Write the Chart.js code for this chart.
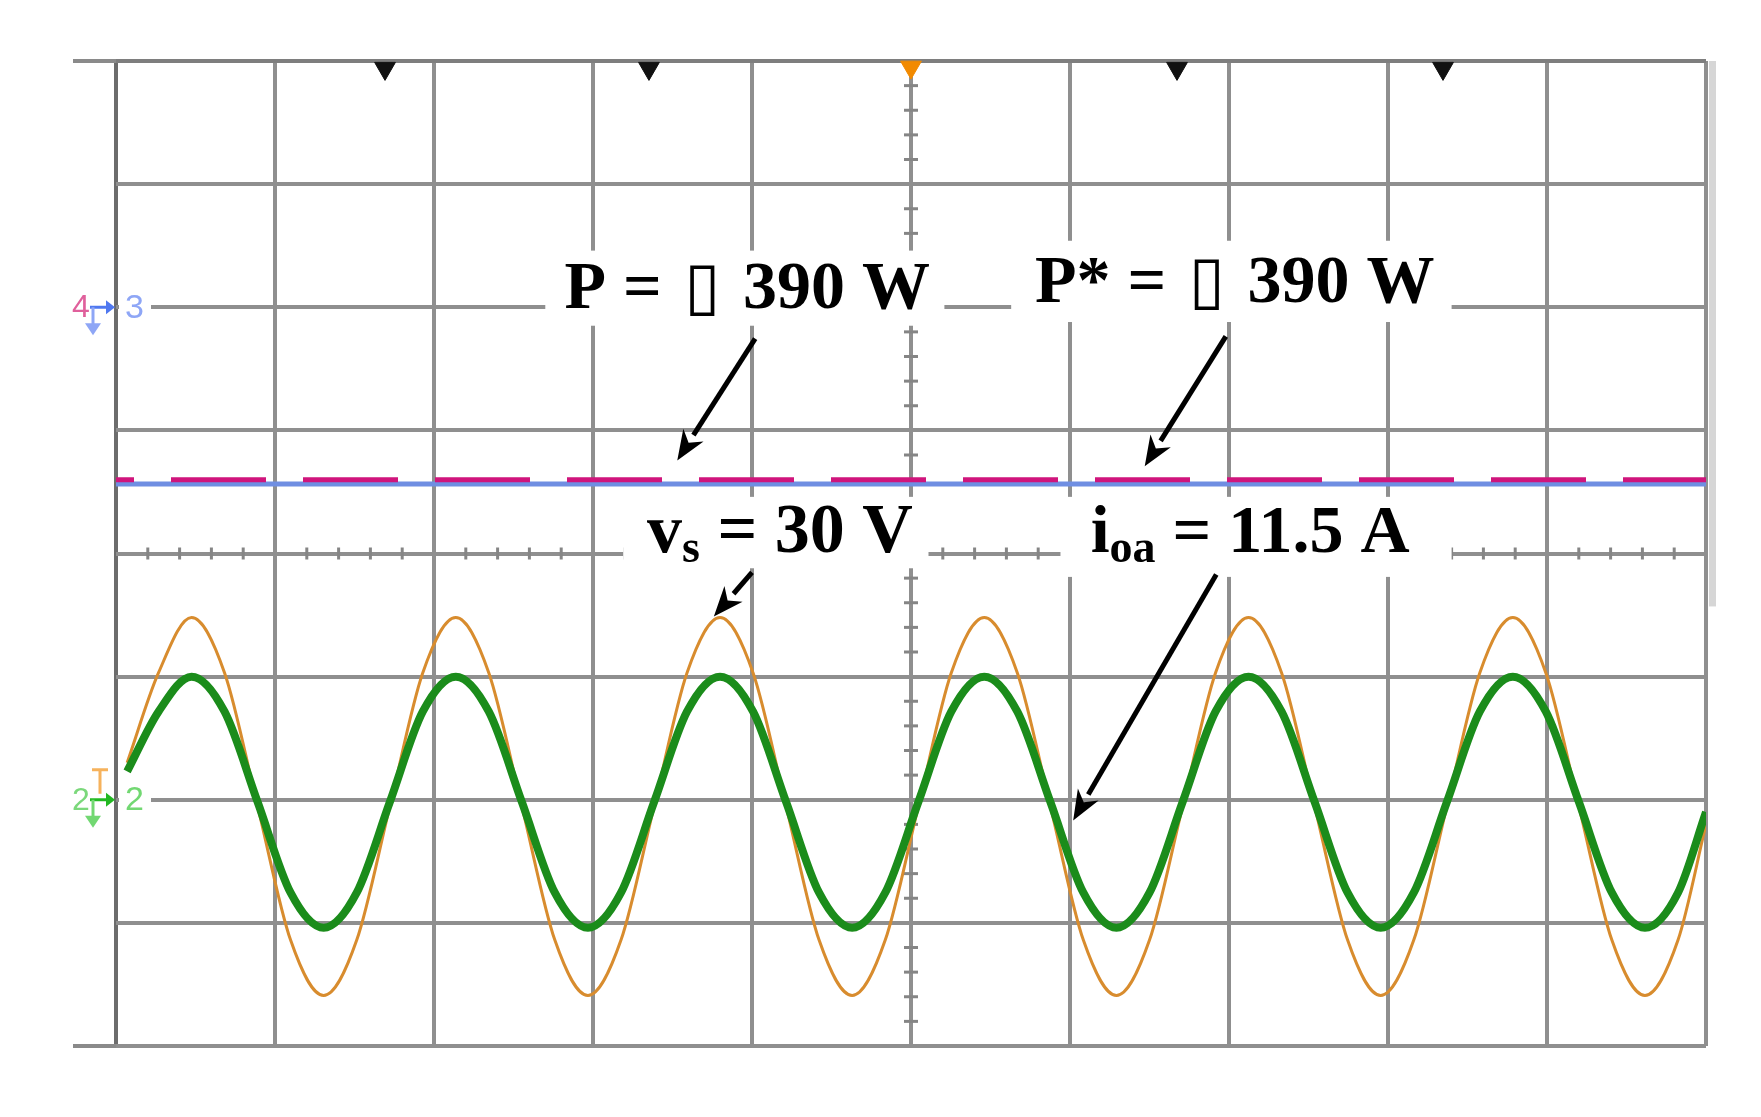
<!DOCTYPE html>
<html>
<head>
<meta charset="utf-8">
<script src="https://cdn.jsdelivr.net/npm/chart.js@4.4.1/dist/chart.umd.min.js"></script>
<style>
  html, body { margin: 0; padding: 0; background: #fff; }
  #wrap { width: 1761px; height: 1117px; position: relative; }
</style>
</head>
<body>
<div id="wrap"><canvas id="scope"></canvas></div>
<script>
// ================================================
// Scope capture: P, P*, vs and ioa
// axes are in screen divisions (10 x 8, centre = 0)
// ================================================

// time positions of the samples (div)
const sineX = [0.07, 0.267, 0.475, 0.683, 0.891, 1.098, 1.306, 1.514, 1.722, 1.929,
  2.137, 2.345, 2.553, 2.760, 2.968, 3.176, 3.384, 3.591, 3.799, 4.007,
  4.215, 4.422, 4.630, 4.838, 5.046, 5.253, 5.461, 5.669, 5.877, 6.084,
  6.292, 6.500, 6.708, 6.915, 7.123, 7.331, 7.539, 7.746, 7.954, 8.162,
  8.370, 8.577, 8.785, 8.993, 9.201, 9.408, 9.616, 9.824, 10.0];

// vs (orange, thin)
const voltageVs = [-1.70, -0.97, -0.52, -0.97, -2.055, -3.14, -3.59, -3.14, -2.055, -0.97,
  -0.52, -0.97, -2.055, -3.14, -3.59, -3.14, -2.055, -0.97, -0.52, -0.97,
  -2.055, -3.14, -3.59, -3.14, -2.055, -0.97, -0.52, -0.97, -2.055, -3.14,
  -3.59, -3.14, -2.055, -0.97, -0.52, -0.97, -2.055, -3.14, -3.59, -3.14,
  -2.055, -0.97, -0.52, -0.97, -2.055, -3.14, -3.59, -3.14, -2.20];

// ioa (green, thick)
const currentIoa = [-1.77, -1.285, -1.0, -1.285, -2.02, -2.755, -3.04, -2.755, -2.02, -1.285,
  -1.0, -1.285, -2.02, -2.755, -3.04, -2.755, -2.02, -1.285, -1.0, -1.285,
  -2.02, -2.755, -3.04, -2.755, -2.02, -1.285, -1.0, -1.285, -2.02, -2.755,
  -3.04, -2.755, -2.02, -1.285, -1.0, -1.285, -2.02, -2.755, -3.04, -2.755,
  -2.02, -1.285, -1.0, -1.285, -2.02, -2.755, -3.04, -2.755, -2.10];

// active power P (blue) and reference P* (magenta dashed)
const powerX = [0, 10];
const powerP = [0.565, 0.565];
const powerRef = [0.598, 0.598];

// markers along the top edge
const cycleMarkX = [1.692, 3.352, 6.673, 8.346];
const cycleMarkY = [3.94, 3.94, 3.94, 3.94];
const triggerX = [5.0];
const triggerY = [3.95];

// annotation texts
const labelTexts = [
  [{ t: 'P = ' }, { t: '▯', box: true }, { t: ' 390 W' }],
  [{ t: 'P* = ' }, { t: '▯', box: true }, { t: ' 390 W' }],
  [{ t: 'v', big: true }, { t: 's', sub: true }, { t: ' = 30 V', big: true }],
  [{ t: 'i' }, { t: 'oa', sub: true }, { t: ' = 11.5 A' }],
];

const pts = (xs, ys) => xs.map((x, i) => ({ x, y: ys[i] }));

// label boxes / arrows, placed in division units
const notes = [
  { box: [2.70, 5.21, 2.46, 1.85], at: [2.82, 1.99], arrow: [4.02, 1.745, 3.53, 0.756] },
  { box: [5.63, 8.40, 2.54, 1.88], at: [5.78, 2.04], arrow: [6.98, 1.763, 6.47, 0.708] },
  { box: [3.19, 5.11, 0.46, -0.12], at: [3.34, 0.01], arrow: [4.00, -0.154, 3.76, -0.511] },
  { box: [5.94, 8.40, 0.46, -0.19], at: [6.13, 0.01], arrow: [6.92, -0.17, 6.02, -2.168] },
];

const FONT_MAIN = 'bold 68px "Liberation Serif", "Times New Roman", serif';
const FONT_BIG  = 'bold 70px "Liberation Serif", "Times New Roman", serif';
const FONT_SUB  = 'bold 46px "Liberation Serif", "Times New Roman", serif';
const FONT_BOX  = '66px "DejaVu Sans", sans-serif';
const BOX_PAD = 11;

function drawArrow(ctx, x0, y0, x1, y1) {
  const ang = Math.atan2(y1 - y0, x1 - x0);
  const len = 30, half = 12;
  const bx = x1 - Math.cos(ang) * len, by = y1 - Math.sin(ang) * len;
  ctx.strokeStyle = '#000';
  ctx.lineWidth = 5;
  ctx.beginPath();
  ctx.moveTo(x0, y0);
  ctx.lineTo(bx, by);
  ctx.stroke();
  ctx.fillStyle = '#000';
  ctx.beginPath();
  ctx.moveTo(x1, y1);
  ctx.lineTo(bx + Math.sin(ang) * half, by - Math.cos(ang) * half);
  ctx.lineTo(x1 - Math.cos(ang) * len * 0.7, y1 - Math.sin(ang) * len * 0.7);
  ctx.lineTo(bx - Math.sin(ang) * half, by + Math.cos(ang) * half);
  ctx.closePath();
  ctx.fill();
}

function channelMark(ctx, left, py, col, arrowCol, leftTxt, leftCol, num) {
  ctx.textBaseline = 'middle';
  ctx.font = '32px "Liberation Sans", sans-serif';
  ctx.fillStyle = leftCol;
  ctx.fillText(leftTxt, left - 44, py + 1);
  // arrow into the screen
  ctx.strokeStyle = arrowCol; ctx.lineWidth = 3;
  ctx.beginPath(); ctx.moveTo(left - 26, py); ctx.lineTo(left - 8, py); ctx.stroke();
  ctx.fillStyle = arrowCol;
  ctx.beginPath(); ctx.moveTo(left - 10, py - 7); ctx.lineTo(left - 1, py); ctx.lineTo(left - 10, py + 7); ctx.fill();
  // small down arrow
  ctx.strokeStyle = col;
  ctx.beginPath(); ctx.moveTo(left - 23, py); ctx.lineTo(left - 23, py + 18); ctx.stroke();
  ctx.fillStyle = col;
  ctx.beginPath(); ctx.moveTo(left - 31, py + 16); ctx.lineTo(left - 15, py + 16); ctx.lineTo(left - 23, py + 28); ctx.fill();
  ctx.font = '34px "Liberation Sans", sans-serif';
  ctx.fillStyle = col;
  ctx.fillText(num, left + 9, py + 1);
}

const scopeDecor = {
  id: 'scopeDecor',
  beforeDatasetsDraw(chart) {
    const { ctx, chartArea: a, scales: { x, y } } = chart;
    ctx.save();
    // minor ticks on the centre cross
    ctx.strokeStyle = '#858585';
    ctx.lineWidth = 3;
    const cx = x.getPixelForValue(5), cy = y.getPixelForValue(0);
    for (let i = 1; i < 50; i++) {
      if (i % 5 === 0) continue;
      const px = x.getPixelForValue(i / 5);
      ctx.beginPath(); ctx.moveTo(px, cy - 6); ctx.lineTo(px, cy + 6); ctx.stroke();
    }
    for (let i = -19; i < 20; i++) {
      if (i % 5 === 0) continue;
      const py = y.getPixelForValue(i / 5);
      ctx.beginPath(); ctx.moveTo(cx - 7, py); ctx.lineTo(cx + 7, py); ctx.stroke();
    }
    // outer frame runs a little past the left edge
    ctx.strokeStyle = '#8a8a8a';
    ctx.lineWidth = 4;
    [a.top, a.bottom].forEach(py => {
      ctx.beginPath(); ctx.moveTo(a.left - 43, py); ctx.lineTo(a.left, py); ctx.stroke();
    });
    // light shadow along the right edge
    ctx.fillStyle = '#d6d6d6';
    ctx.fillRect(a.right + 3, a.top, 7, y.getPixelForValue(-0.43) - a.top);
    // gaps in the channel lines where the numbers sit
    ctx.fillStyle = '#fff';
    [2, -2].forEach(v => {
      const py = y.getPixelForValue(v);
      ctx.fillRect(a.left + 3, py - 4, 32, 8);
    });
    ctx.restore();
  },
  afterDatasetsDraw(chart) {
    const { ctx, scales: { x, y } } = chart;
    ctx.save();
    notes.forEach((n, i) => {
      const [bx0, bx1, by0, by1] = n.box;
      const l = x.getPixelForValue(bx0), r = x.getPixelForValue(bx1);
      const t = y.getPixelForValue(by0), b = y.getPixelForValue(by1);
      ctx.fillStyle = '#fff';
      ctx.fillRect(l, t, r - l, b - t);
      // text runs
      let px = x.getPixelForValue(n.at[0]);
      const base = y.getPixelForValue(n.at[1]);
      ctx.textBaseline = 'alphabetic';
      ctx.fillStyle = '#000';
      labelTexts[i].forEach(run => {
        ctx.font = run.box ? FONT_BOX : run.sub ? FONT_SUB : run.big ? FONT_BIG : FONT_MAIN;
        if (run.box) px += BOX_PAD / 2;
        ctx.fillText(run.t, px, base + (run.sub ? 10 : 0));
        px += ctx.measureText(run.t).width + (run.box ? BOX_PAD / 2 : 0);
      });
      const [ax0, ay0, ax1, ay1] = n.arrow;
      drawArrow(ctx, x.getPixelForValue(ax0), y.getPixelForValue(ay0),
        x.getPixelForValue(ax1), y.getPixelForValue(ay1));
    });
    ctx.restore();
  },
  afterDraw(chart) {
    const { ctx, chartArea: a, scales: { y } } = chart;
    ctx.save();
    channelMark(ctx, a.left, y.getPixelForValue(2), '#8ea6f6', '#4f78f0', '4', '#e0609c', '3');
    const p2 = y.getPixelForValue(-2);
    channelMark(ctx, a.left, p2, '#72d872', '#22b822', '2', '#7bd87b', '2');
    // trigger level tag
    ctx.strokeStyle = '#f6b25c'; ctx.lineWidth = 3;
    ctx.beginPath();
    ctx.moveTo(a.left - 24, p2 - 30); ctx.lineTo(a.left - 8, p2 - 30);
    ctx.moveTo(a.left - 16, p2 - 30); ctx.lineTo(a.left - 16, p2 - 6);
    ctx.stroke();
    ctx.restore();
  }
};

Chart.defaults.animation = false;

const C = {
  grid: '#8f8f8f',
  gridDark: '#6c6c6c',
  orange: '#d88c2e',
  green: '#1b8c1b',
  blue: '#6f8ee2',
  magenta: '#d0157c',
};

new Chart(document.getElementById('scope'), {
  type: 'line',
  data: {
    datasets: [
      {
        label: 'cycle',
        data: pts(cycleMarkX, cycleMarkY),
        showLine: false,
        pointStyle: 'triangle',
        rotation: 180,
        pointRadius: 12,
        backgroundColor: '#111',
        borderColor: '#111',
        borderWidth: 1,
        clip: false,
      },
      {
        label: 'trigger',
        data: pts(triggerX, triggerY),
        showLine: false,
        pointStyle: 'triangle',
        rotation: 180,
        pointRadius: 12,
        backgroundColor: '#f28a00',
        borderColor: '#f28a00',
        borderWidth: 1,
        clip: false,
      },
      {
        label: 'P*',
        data: pts(powerX, powerRef),
        borderColor: C.magenta,
        borderWidth: 5,
        borderDash: [95, 37],
        borderDashOffset: 77,
        pointRadius: 0,
      },
      {
        label: 'P',
        data: pts(powerX, powerP),
        borderColor: C.blue,
        borderWidth: 5,
        pointRadius: 0,
      },
      {
        label: 'ioa',
        data: pts(sineX, currentIoa),
        borderColor: C.green,
        borderWidth: 8,
        cubicInterpolationMode: 'monotone',
        pointRadius: 0,
      },
      {
        label: 'vs',
        data: pts(sineX, voltageVs),
        borderColor: C.orange,
        borderWidth: 3,
        cubicInterpolationMode: 'monotone',
        pointRadius: 0,
      },
    ]
  },
  options: {
    responsive: true,
    maintainAspectRatio: false,
    layout: { padding: { left: 116, top: 61, right: 55, bottom: 71 } },
    plugins: { legend: { display: false }, tooltip: { enabled: false } },
    scales: {
      x: {
        type: 'linear', min: 0, max: 10,
        ticks: { display: false, stepSize: 1 },
        grid: {
          color: c => c.tick && c.tick.value === 0 ? C.gridDark : C.grid,
          lineWidth: 4, drawTicks: false,
        },
        border: { display: false },
      },
      y: {
        type: 'linear', min: -4, max: 4,
        ticks: { display: false, stepSize: 1 },
        grid: {
          color: c => c.tick && c.tick.value === 4 ? '#7e7e7e' : C.grid,
          lineWidth: 4, drawTicks: false,
        },
        border: { display: false },
      }
    }
  },
  plugins: [scopeDecor]
});
</script>
</body>
</html>
